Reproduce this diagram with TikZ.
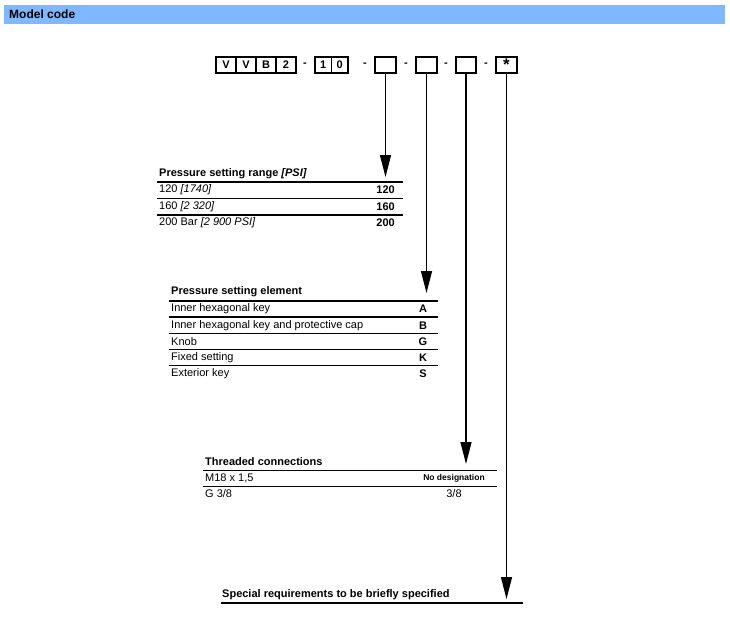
\documentclass[tikz,border=0pt]{standalone}
\usepackage{fontspec}
\setmainfont{Liberation Sans}
\usetikzlibrary{arrows.meta}
\definecolor{hdr}{HTML}{80B8FF}
\begin{document}
\begin{tikzpicture}[x=1pt,y=-1pt,
  cell/.style={draw,line width=1.2pt,minimum width=20pt,minimum height=16pt,inner sep=0pt,font=\bfseries\fontsize{11}{12}\selectfont},
  dashlbl/.style={inner sep=0pt,font=\bfseries\fontsize{11}{12}\selectfont},
  arr/.style={line width=1.2pt,-{Triangle[length=22pt,width=11pt]}},
  rule/.style={line width=1.3pt},
  hd/.style={anchor=west,inner sep=0pt,font=\bfseries\fontsize{11}{13}\selectfont},
  txt/.style={anchor=west,inner sep=0pt,font=\fontsize{11}{13}\selectfont},
  code/.style={inner sep=0pt,font=\bfseries\fontsize{11}{13}\selectfont},
  small/.style={inner sep=0pt,font=\bfseries\fontsize{8.5}{10}\selectfont}]
\path[use as bounding box] (0,0) rectangle (730,619);
% header bar
\fill[hdr] (4,5) rectangle (725,24);
\node[anchor=west,inner sep=0pt,font=\bfseries\fontsize{12}{14}\selectfont] (title) at (9,14.5) {Model code};
% code boxes
\node[cell] (v1) at (226,65) {V};
\node[cell] (v2) at (246,65) {V};
\node[cell] (bb) at (266,65) {B};
\node[cell] (n2) at (286,65) {2};
\node[dashlbl] (d1) at (305,65) {-};
\node[cell,minimum width=16.5pt] (c1) at (323.25,65) {1};
\node[cell,minimum width=16.5pt] (c0) at (339.75,65) {0};
\node[dashlbl] (d2) at (365,65) {-};
\node[cell,minimum width=21pt] (bp) at (385.5,65) {};
\node[dashlbl] (d3) at (406,65) {-};
\node[cell,minimum width=21pt] (be) at (426.5,65) {};
\node[dashlbl] (d4) at (446,65) {-};
\node[cell] (bt) at (466,65) {};
\node[dashlbl] (d5) at (486,65) {-};
\node[cell,minimum width=21pt,font=\bfseries\fontsize{17}{17}\selectfont] (bs) at (506.5,65) {*};
% arrows
\coordinate (tp) at (385.5,177);
\coordinate (te) at (426.5,293);
\coordinate (tt) at (466,464);
\coordinate (ts) at (506.5,599);
\draw[arr] (bp.south) -- (tp);
\draw[arr] (be.south) -- (te);
\draw[arr] (bt.south) -- (tt);
\draw[arr] (bs.south) -- (ts);
% table 1
\node[hd] (h1) at (159,174) {Pressure setting range \textit{[PSI]}};
\draw[rule] (157,182) -- (403,182);
\node[txt] (r11) at (159,190) {120 \textit{[1740]}};
\node[code,anchor=east] (k11) at (395,190) {120};
\draw[rule] (157,198.5) -- (403,198.5);
\node[txt] (r12) at (159,206.5) {160 \textit{[2 320]}};
\node[code,anchor=east] (k12) at (395,206.5) {160};
\draw[rule] (157,215) -- (403,215);
\node[txt] (r13) at (159,223) {200 Bar \textit{[2 900 PSI]}};
\node[code,anchor=east] (k13) at (395,223) {200};
% table 2
\node[hd] (h2) at (171,292) {Pressure setting element};
\draw[rule] (169,301) -- (438,301);
\node[txt] (r21) at (171,309) {Inner hexagonal key};
\node[code] (k21) at (423,309) {A};
\draw[rule] (169,317) -- (438,317);
\node[txt] (r22) at (171,325.5) {Inner hexagonal key and protective cap};
\node[code] (k22) at (423,325.5) {B};
\draw[rule] (169,333.5) -- (438,333.5);
\node[txt] (r23) at (171,341.5) {Knob};
\node[code] (k23) at (423,341.5) {G};
\draw[rule] (169,349.5) -- (438,349.5);
\node[txt] (r24) at (171,357.5) {Fixed setting};
\node[code] (k24) at (423,357.5) {K};
\draw[rule] (169,365.5) -- (438,365.5);
\node[txt] (r25) at (171,373.5) {Exterior key};
\node[code] (k25) at (423,373.5) {S};
% table 3
\node[hd] (h3) at (205,462) {Threaded connections};
\draw[rule] (203,470.5) -- (497,470.5);
\node[txt] (r31) at (205,478) {M18 x 1,5};
\node[small] (k31) at (454,478.5) {No designation};
\draw[rule] (203,486.5) -- (497,486.5);
\node[txt] (r32) at (205,494) {G 3/8};
\node[txt,anchor=center] (k32) at (454,494) {3/8};
% special
\node[hd] (h4) at (222,595) {Special requirements to be briefly specified};
\draw[rule] (221,603) -- (523,603);
\end{tikzpicture}
\end{document}
